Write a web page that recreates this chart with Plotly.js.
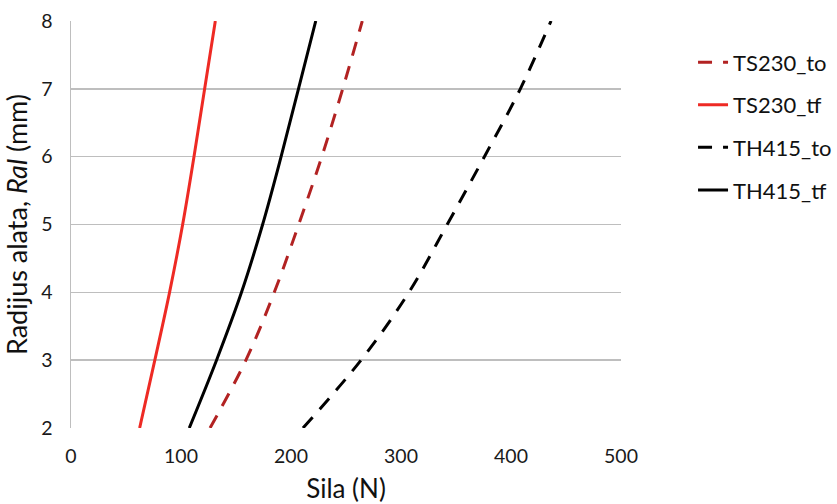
<!DOCTYPE html>
<html>
<head>
<meta charset="utf-8">
<script src="https://cdn.plot.ly/plotly-3.0.1.min.js"></script>
<style>html,body{margin:0;padding:0;background:#fff;}#chart{width:837px;height:504px;}</style>
</head>
<body>
<div id="chart"></div>
<script>
const radius = [2, 3, 4, 5, 6, 7, 8];
const ts230_to = [126.4, 159, 184.8, 207, 228, 247, 264.8];
const ts230_tf = [62.4, 76.2, 89.6, 101.5, 111.8, 121.5, 131.2];
const th415_to = [210.9, 263.6, 307.2, 342, 375.8, 408.5, 436.4];
const th415_tf = [107.5, 132.3, 155, 174.2, 191, 206.8, 222.5];
const seriesNames = ["TS230_to", "TS230_tf", "TH415_to", "TH415_tf"];
const xTicks = [0, 100, 200, 300, 400, 500];
const yTicks = [2, 3, 4, 5, 6, 7, 8];

const font = "Lato, Open Sans, sans-serif";
function tr(x, name, color, dash, g) {
  return {x: x, y: radius, name: name, type: "scatter", mode: "lines",
    line: {color: color, width: 3, dash: dash, shape: "spline", smoothing: 1},
    legendgroup: g};
}
const data = [
  tr(ts230_to, seriesNames[0], "#B22222", "14px,11px", "a"),
  tr(ts230_tf, seriesNames[1], "#EE2A24", "solid", "b"),
  tr(th415_to, seriesNames[2], "#000000", "14px,11px", "c"),
  tr(th415_tf, seriesNames[3], "#000000", "solid", "d")
];
const layout = {
  width: 837, height: 504,
  margin: {l: 71, r: 216, t: 21, b: 76},
  paper_bgcolor: "#fff", plot_bgcolor: "#fff",
  font: {family: font, size: 19, color: "#1a1a1a"},
  showlegend: true,
  legend: {xref: "container", yref: "container", x: 0.828, xanchor: "left", y: 0.918, yanchor: "top",
    tracegroupgap: 11, font: {family: font, size: 22, color: "#111"}, bgcolor: "rgba(0,0,0,0)"},
  xaxis: {range: [0, 500], tickvals: xTicks, ticktext: xTicks.map(String),
    showgrid: false, zeroline: false, showline: false, ticks: "",
    ticklabelstandoff: 14, tickfont: {size: 19.5, color: "#1a1a1a"},
    title: {text: "Sila (N)", font: {size: 26, color: "#111"}, standoff: 16}},
  yaxis: {range: [2, 8], tickvals: yTicks, ticktext: yTicks.map(String),
    showgrid: true, gridcolor: "#BEBEBE", gridwidth: 1.5, zeroline: false,
    showline: true, linecolor: "#BEBEBE", linewidth: 1.5, ticks: "",
    ticklabelstandoff: 13, tickfont: {size: 19.5, color: "#1a1a1a"},
    title: {text: "Radijus alata, <i>Ral</i> (mm)", font: {size: 27, color: "#111"}, standoff: 6}}
};
Plotly.newPlot("chart", data, layout, {displayModeBar: false, staticPlot: true});
</script>
</body>
</html>
